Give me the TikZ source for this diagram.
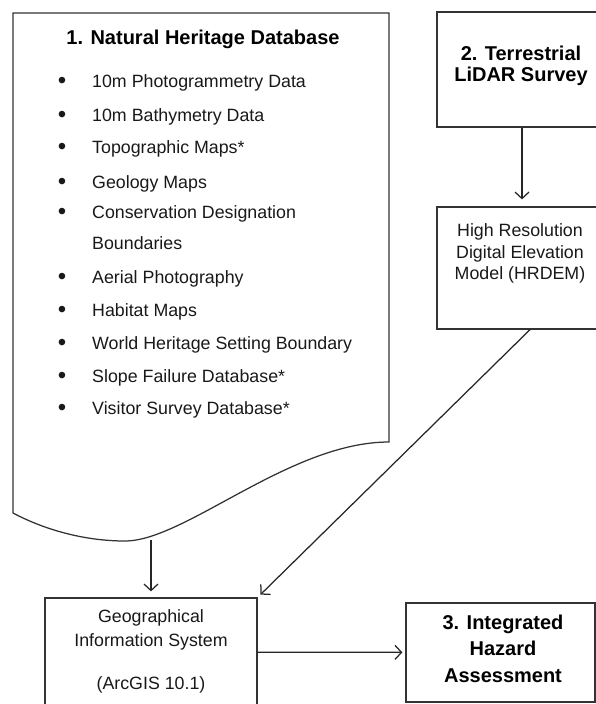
\documentclass[tikz,border=0pt]{standalone}
\usepackage{fontspec}
\setmainfont{Liberation Sans}
\usetikzlibrary{arrows.meta,calc}
\begin{document}
\begin{tikzpicture}[x=1pt,y=-1pt,
  outline/.style={draw=black!80,line width=1.25pt},
  box/.style={outline,fill=white,inner sep=0pt},
  arrow/.style={draw=black!85,line width=1.25pt,-{Straight Barb[length=6.5pt,width=14pt,line width=1.25pt]}},
  body/.style={text=black!90,inner sep=0pt,font=\fontsize{17.8}{21}\selectfont},
  item/.style={body,anchor=base west},
  dot/.style={text=black!90,inner sep=0pt,anchor=base,font=\fontsize{24}{24}\selectfont},
  head/.style={text=black,inner sep=0pt,anchor=base,font=\fontsize{20}{24}\selectfont\bfseries},
  lbl/.style={body,anchor=base}]
\useasboundingbox (0,0) rectangle (596,704);

% source document with wavy lower edge
\draw[outline,fill=white] (13,13) -- (389,13) -- (389,442)
  .. controls (290,442) and (185,541) .. (125,541)
  .. controls (85,541) and (45,530) .. (13,513) -- cycle;
\coordinate (dbout) at (151,540);

\node[head] (dbtitle) at (203,44) {1. Natural Heritage Database};

\foreach \y/\txt [count=\i] in {
   81/10m Photogrammetry Data,
  115/10m Bathymetry Data,
  147/Topographic Maps*,
  182/Geology Maps,
  212/Conservation Designation,
  277/Aerial Photography,
  310/Habitat Maps,
  343/World Heritage Setting Boundary,
  376/Slope Failure Database*,
  408/Visitor Survey Database*}{
  \node[dot] (b\i) at (62,\y+7.5) {•};
  \node[item] (i\i) at (92,\y+6.5) {\txt};
}
\node[item] (i5b) at (92,249.5) {Boundaries};

% boxes
\node[box,minimum width=170pt,minimum height=115pt] (lidar) at (522,69.5) {};
\node[box,minimum width=170pt,minimum height=122pt] (hrdem) at (522,268) {};
\node[box,minimum width=212pt,minimum height=108pt] (gis) at (151,652) {};
\node[box,minimum width=189pt,minimum height=99pt] (hazard) at (500.5,652.5) {};

% box texts
\node[head] (l1) at (521,60) {2. Terrestrial};
\node[head] (l2) at (521,81) {LiDAR Survey};

\node[lbl] (h1) at (520,236.5) {High Resolution};
\node[lbl] (h2) at (520,258.5) {Digital Elevation};
\node[lbl] (h3) at (520,279.5) {Model (HRDEM)};

\node[lbl] (g1) at (151,622.5) {Geographical};
\node[lbl] (g2) at (151,646.5) {Information System};
\node[lbl] (g3) at (151,689.5) {(ArcGIS 10.1)};

\node[head] (z1) at (503,629) {3. Integrated};
\node[head] (z2) at (503,655) {Hazard};
\node[head] (z3) at (503,682) {Assessment};

% connectors
\draw[arrow,shorten >=6pt] (dbout) -- (dbout |- gis.north);
\draw[arrow,shorten >=7pt] (lidar) -- (hrdem);
\draw[arrow,shorten >=4pt] ($(hrdem.south)+(8,0)$) -- (gis.north east);
\draw[arrow,shorten >=3pt] (gis) -- (hazard);
\end{tikzpicture}
\end{document}
